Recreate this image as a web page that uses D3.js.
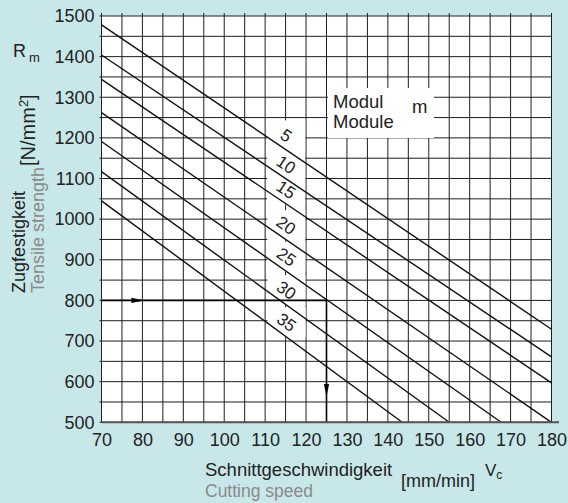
<!DOCTYPE html>
<html lang="de">
<head>
<meta charset="UTF-8">
<title>Zugfestigkeit / Schnittgeschwindigkeit</title>
<style>
  body { margin: 0; background: #c8e7e9; }
  svg { display: block; font-family: "Liberation Sans", Arial, sans-serif; }
  .grid line { stroke: #1e1e1e; stroke-width: 1; }
  .axis text { font-size: 18px; fill: #222; }
  .axis path, .axis line { display: none; }
  .curve { fill: none; stroke: #111; stroke-width: 1.4; }
  .lbl { font-size: 17px; fill: #222; }
</style>
</head>
<body>
<svg id="chart" width="568" height="503"></svg>

<script src="https://cdn.jsdelivr.net/npm/d3@7"></script>
<script>
  "use strict";

  // Modul-Linien: R bei 70 mm/min, Endpunkt (v, R)
  var modules = [5, 10, 15, 20, 25, 30, 35];
  var startR = [1478, 1404, 1344, 1262, 1191, 1117, 1045];
  var endV = [180, 180, 180, 180, 167.7, 155, 143.5];
  var endR = [729, 661, 597, 500, 500, 500, 500];

  var xTicks = [70, 80, 90, 100, 110, 120, 130, 140, 150, 160, 170, 180];
  var yTicks = [500, 600, 700, 800, 900, 1000, 1100, 1200, 1300, 1400, 1500];

  // Ablesebeispiel
  var readR = 800, readV = 125, arrowV = 80.5, arrowR = 562;

  var svg = d3.select("#chart");

  var x = d3.scaleLinear().domain([70, 180]).range([101.5, 551.5]);
  var y = d3.scaleLinear().domain([500, 1500]).range([422.3, 16]);

  svg.append("rect")
    .attr("x", x(70)).attr("y", y(1500))
    .attr("width", x(180) - x(70)).attr("height", y(500) - y(1500))
    .attr("fill", "#fff");

  // Raster
  var grid = svg.append("g").attr("class", "grid");
  grid.selectAll(".v")
    .data(d3.range(70, 180.1, 5))
    .enter().append("line")
    .attr("x1", function(d){ return x(d); })
    .attr("x2", function(d){ return x(d); })
    .attr("y1", y(1500) - 3)
    .attr("y2", y(500));
  grid.selectAll(".h")
    .data(d3.range(500, 1500.1, 50))
    .enter().append("line")
    .attr("x1", x(70) - 2)
    .attr("x2", x(180))
    .attr("y1", function(d){ return y(d); })
    .attr("y2", function(d){ return y(d); });

  // Beschriftung der Linien
  var labelV = 113.5;
  var labels = modules.map(function(m, i){
    var t = (labelV - 70) / (endV[i] - 70);
    var r = startR[i] + (endR[i] - startR[i]) * t;
    var a = Math.atan2(y(endR[i]) - y(startR[i]), x(endV[i]) - x(70));
    return { m: m, px: x(labelV), py: y(r), a: a };
  });

  // weiße Flächen hinter Beschriftungen
  svg.selectAll(".mask")
    .data(labels)
    .enter().append("rect")
    .attr("x", function(d){ return d.px + 12 * Math.sin(d.a) - 19; })
    .attr("y", function(d){ return d.py - 12 * Math.cos(d.a) - 15; })
    .attr("width", 38)
    .attr("height", 30)
    .attr("fill", "#fff");

  svg.append("rect")
    .attr("x", 328).attr("y", 88)
    .attr("width", 106).attr("height", 50)
    .attr("fill", "#fff");

  // Linien
  svg.selectAll(".curve")
    .data(modules)
    .enter().append("line")
    .attr("class", "curve")
    .attr("x1", x(70))
    .attr("y1", function(d, i){ return y(startR[i]); })
    .attr("x2", function(d, i){ return x(endV[i]); })
    .attr("y2", function(d, i){ return y(endR[i]); });

  svg.selectAll(".lbl")
    .data(labels)
    .enter().append("text")
    .attr("class", "lbl")
    .attr("text-anchor", "middle")
    .attr("dy", -6)
    .attr("transform", function(d){
      return "translate(" + d.px + "," + d.py + ") rotate(" + (d.a * 180 / Math.PI) + ")";
    })
    .text(function(d){ return d.m; });

  // Ablesepfeil
  svg.append("path")
    .attr("d", "M" + x(70) + "," + y(readR) + "H" + x(readV) + "V" + y(500))
    .attr("fill", "none").attr("stroke", "#000").attr("stroke-width", 1.6);
  svg.append("path")
    .attr("d", "M" + x(arrowV) + "," + y(readR) + "l-13,-2.6v5.2z")
    .attr("fill", "#000");
  svg.append("path")
    .attr("d", "M" + x(readV) + "," + y(arrowR) + "l-2.6,-13h5.2z")
    .attr("fill", "#000");

  // Achsen
  svg.append("line")
    .attr("x1", x(70)).attr("x2", 559)
    .attr("y1", y(500)).attr("y2", y(500))
    .attr("stroke", "#555").attr("stroke-width", 2);

  svg.append("g")
    .attr("class", "axis")
    .attr("transform", "translate(" + x(70) + ",0)")
    .call(d3.axisLeft(y).tickValues(yTicks).tickSize(2).tickPadding(5).tickFormat(d3.format("d")));

  svg.append("g")
    .attr("class", "axis")
    .attr("transform", "translate(0," + y(500) + ")")
    .call(d3.axisBottom(x).tickValues(xTicks).tickSize(0).tickPadding(11).tickFormat(d3.format("d")));

  // Legende
  svg.append("text").attr("x", 333).attr("y", 108).attr("font-size", 18.5).attr("fill", "#222").text("Modul");
  svg.append("text").attr("x", 333).attr("y", 128).attr("font-size", 18.5).attr("fill", "#222").text("Module");
  svg.append("text").attr("x", 412).attr("y", 113).attr("font-size", 18.5).attr("fill", "#222").text("m");

  // Achsentitel
  var rm = svg.append("text").attr("x", 13).attr("y", 57).attr("font-size", 18).attr("fill", "#222");
  rm.append("tspan").text("R");
  rm.append("tspan").attr("dx", 3).attr("dy", 5).attr("font-size", 13).text("m");

  var unitY = svg.append("text")
    .attr("transform", "translate(35,166) rotate(-90)")
    .attr("font-size", 20).attr("fill", "#222");
  unitY.append("tspan").text("[N/mm");
  unitY.append("tspan").attr("dy", -7).attr("font-size", 13).text("2");
  unitY.append("tspan").attr("dy", 7).text("]");

  svg.append("text")
    .attr("transform", "translate(25,293) rotate(-90)")
    .attr("font-size", 18).attr("fill", "#222")
    .text("Zugfestigkeit");
  svg.append("text")
    .attr("transform", "translate(44,293) rotate(-90)")
    .attr("font-size", 18).attr("fill", "#8a8a8a")
    .text("Tensile strength");

  svg.append("text").attr("x", 205).attr("y", 476).attr("font-size", 18.5).attr("fill", "#222")
    .text("Schnittgeschwindigkeit");
  svg.append("text").attr("x", 205).attr("y", 497).attr("font-size", 17.5).attr("fill", "#8a8a8a")
    .text("Cutting speed");
  svg.append("text").attr("x", 401).attr("y", 487).attr("font-size", 18).attr("fill", "#222")
    .text("[mm/min]");
  var vc = svg.append("text").attr("x", 485).attr("y", 476).attr("font-size", 17).attr("fill", "#222");
  vc.append("tspan").text("V");
  vc.append("tspan").attr("dy", 3).attr("font-size", 12).text("c");
</script>
</body>
</html>
